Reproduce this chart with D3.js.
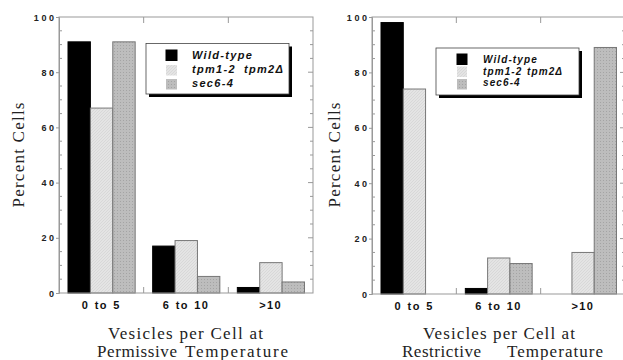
<!DOCTYPE html>
<html><head><meta charset="utf-8">
<script src="https://cdn.jsdelivr.net/npm/d3@7/dist/d3.min.js"></script>
<style>body{margin:0;background:#fff}svg{display:block}</style>
</head><body>
<script>
// ---- data ----
const categories = ["0 to 5", "6 to 10", ">10"];
const seriesNames = ["Wild-type", "tpm1-2", "sec6-4"];
const seriesNames2 = ["", "tpm2\u0394", ""];
const permWildType = [91, 17, 2];
const permTpm = [67, 19, 11];
const permSec = [91, 6, 4];
const restWildType = [98, 2, 0];
const restTpm = [74, 13, 15];
const restSec = [0, 11, 89];
const yTicks = [0, 20, 40, 60, 80, 100];
const yTitle = "Percent Cells";
const permTitle = ["Vesicles per Cell at", "Permissive", "Temperature"];
const restTitle = ["Vesicles per Cell at", "Restrictive", "Temperature"];

const W = 623, H = 360;
const svg = d3.select("body").append("svg").attr("width", W).attr("height", H);
const defs = svg.append("defs");
const p1 = defs.append("pattern").attr("id", "hatch").attr("patternUnits", "userSpaceOnUse")
  .attr("width", 3).attr("height", 3);
p1.append("rect").attr("width", 3).attr("height", 3).attr("fill", "#e4e4e4");
p1.append("path").attr("d", "M0,3 L3,0").attr("stroke", "#d2d2d2").attr("stroke-width", 0.7);
const p2 = defs.append("pattern").attr("id", "dots").attr("patternUnits", "userSpaceOnUse")
  .attr("width", 3).attr("height", 3);
p2.append("rect").attr("width", 3).attr("height", 3).attr("fill", "#bdbdbd");
p2.append("rect").attr("width", 1).attr("height", 1).attr("fill", "#a4a4a4");

const fills = ["#000", "url(#hatch)", "url(#dots)"];
const strokes = ["#000", "#777", "#777"];
const frameColor = "#999";

function panel(cfg) {
  const g = svg.append("g");
  const x = d3.scaleBand().domain(categories).range([cfg.x0, cfg.x1]).paddingInner(0).paddingOuter(0);
  const bw = x.bandwidth();
  const xs = d3.scaleBand().domain(d3.range(3)).range([9, bw - 8.5]).padding(0);
  const y = d3.scaleLinear().domain([0, 100]).range([cfg.yb, cfg.yt]);

  // bars
  cfg.series.forEach((vals, si) => {
    g.selectAll(null).data(vals.map((v, i) => ({v, c: categories[i]})).filter(d => d.v > 0))
      .enter().append("rect")
      .attr("x", d => x(d.c) + xs(si))
      .attr("y", d => y(d.v))
      .attr("width", xs.bandwidth())
      .attr("height", d => y(0) - y(d.v))
      .attr("fill", fills[si]).attr("stroke", strokes[si]).attr("stroke-width", 1);
  });

  // frame
  g.append("rect").attr("x", cfg.x0).attr("y", cfg.yt).attr("width", cfg.x1 - cfg.x0)
    .attr("height", cfg.yb - cfg.yt).attr("fill", "none").attr("stroke", frameColor).attr("stroke-width", 1);

  // left axis
  const ax = g.append("g").attr("transform", `translate(${cfg.x0},0)`)
    .call(d3.axisLeft(y).tickValues(yTicks).tickSize(3).tickPadding(2).tickFormat(d3.format("d")));
  ax.select(".domain").attr("stroke", frameColor);
  ax.selectAll(".tick line").attr("stroke", frameColor);
  ax.selectAll(".tick text").attr("font-family", "Liberation Sans, Arial, sans-serif")
    .attr("font-weight", "bold").attr("font-size", 9).attr("fill", "#222")
    .attr("letter-spacing", 2.6).attr("dx", 2.6).attr("dy", "0.35em");
  // minor ticks (inward) on left and right
  const minor = d3.range(5, 100, 5).filter(v => v % 20 !== 0);
  g.selectAll(null).data(minor).enter().append("line")
    .attr("x1", cfg.x0).attr("x2", cfg.x0 + 3).attr("y1", d => y(d)).attr("y2", d => y(d))
    .attr("stroke", frameColor);
  g.selectAll(null).data(d3.range(5, 100, 5)).enter().append("line")
    .attr("x1", cfg.x1).attr("x2", d => cfg.x1 - (d % 20 === 0 ? 5 : 3)).attr("y1", d => y(d)).attr("y2", d => y(d))
    .attr("stroke", frameColor);
  // band separators top and bottom
  const seps = categories.slice(1).map(c => x(c));
  g.selectAll(null).data(seps).enter().append("line")
    .attr("x1", d => d).attr("x2", d => d).attr("y1", cfg.yb).attr("y2", cfg.yb - 6).attr("stroke", frameColor);
  g.selectAll(null).data(seps).enter().append("line")
    .attr("x1", d => d).attr("x2", d => d).attr("y1", cfg.yt).attr("y2", cfg.yt + 6).attr("stroke", frameColor);

  // category labels
  g.selectAll(null).data(categories).enter().append("text")
    .attr("x", d => x(d) + bw / 2).attr("y", cfg.yb + 16).attr("text-anchor", "middle")
    .attr("font-family", "Liberation Sans, Arial, sans-serif").attr("font-weight", "bold")
    .attr("font-size", 11).attr("letter-spacing", 1.4).attr("word-spacing", 1).attr("fill", "#111")
    .text(d => d);

  // y title
  g.append("text").attr("transform", `translate(${cfg.ytx},${cfg.yty}) rotate(-90)`)
    .attr("text-anchor", "middle").attr("font-family", "Liberation Serif, Times New Roman, serif")
    .attr("font-size", 17).attr("fill", "#222").attr("textLength", 105).attr("lengthAdjust", "spacing")
    .text(yTitle);

  // x title
  const tf = "Liberation Serif, Times New Roman, serif";
  g.append("text").attr("x", cfg.t1x).attr("y", 339).attr("font-family", tf).attr("font-size", 17)
    .attr("fill", "#222").attr("textLength", cfg.t1w).attr("lengthAdjust", "spacing").text(cfg.title[0]);
  g.append("text").attr("x", cfg.t2x).attr("y", 357).attr("font-family", tf).attr("font-size", 17)
    .attr("fill", "#222").attr("textLength", cfg.t2w).attr("lengthAdjust", "spacing").text(cfg.title[1]);
  g.append("text").attr("x", cfg.t3x).attr("y", 357).attr("font-family", tf).attr("font-size", 17)
    .attr("fill", "#222").attr("textLength", cfg.t3w).attr("lengthAdjust", "spacing").text(cfg.title[2]);

  // legend
  const L = cfg.legend;
  g.append("rect").attr("x", L.x + 3).attr("y", L.y + 3).attr("width", L.w).attr("height", L.h).attr("fill", "#000");
  g.append("rect").attr("x", L.x).attr("y", L.y).attr("width", L.w).attr("height", L.h)
    .attr("fill", "#fff").attr("stroke", "#444").attr("stroke-width", 0.8);
  seriesNames.forEach((n, i) => {
    g.append("rect").attr("x", L.sx).attr("y", L.rows[i]).attr("width", L.sw).attr("height", L.sh)
      .attr("fill", fills[i]).attr("stroke", i === 0 ? "#000" : "none");
    const t = g.append("text").attr("x", L.tx).attr("y", L.base[i])
      .attr("font-family", "Liberation Sans, Arial, sans-serif").attr("font-weight", "bold")
      .attr("font-style", "italic").attr("font-size", L.fs).attr("letter-spacing", L.ls).attr("fill", "#111")
      .text(n);
    if (seriesNames2[i]) {
      g.append("text").attr("x", L.tx2).attr("y", L.base[i])
        .attr("font-family", "Liberation Sans, Arial, sans-serif").attr("font-weight", "bold")
        .attr("font-style", "italic").attr("font-size", L.fs).attr("letter-spacing", L.ls).attr("fill", "#111")
        .text(seriesNames2[i]);
    }
  });
}

panel({
  x0: 59, x1: 313, yt: 17, yb: 293,
  series: [permWildType, permTpm, permSec],
  ytx: 24, yty: 155,
  title: permTitle, t1x: 108, t1w: 155, t2x: 97, t2w: 80, t3x: 185, t3w: 103,
  legend: {x: 146, y: 43.5, w: 143, h: 50.5, sx: 166, sw: 11, sh: 10.5, rows: [50, 65, 79],
    tx: 192, tx2: 244, base: [59, 73, 87], fs: 11, ls: 1.3}
});
panel({
  x0: 372, x1: 625, yt: 17, yb: 294,
  series: [restWildType, restTpm, restSec],
  ytx: 340, yty: 155,
  title: restTitle, t1x: 423, t1w: 152, t2x: 402, t2w: 79, t3x: 507, t3w: 96,
  legend: {x: 436, y: 48, w: 143, h: 47, sx: 457, sw: 10, sh: 10.5, rows: [54, 66.5, 79],
    tx: 483, tx2: 527, base: [63, 75, 86], fs: 10, ls: 1.1}
});
</script>
</body></html>
